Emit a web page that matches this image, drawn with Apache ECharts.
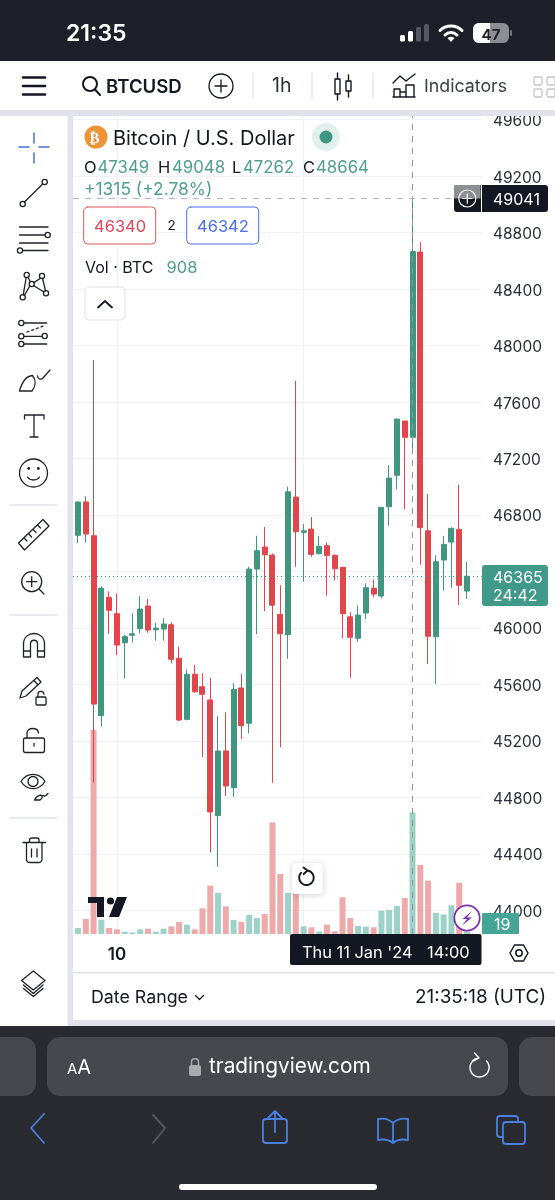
<!DOCTYPE html>
<html>
<head>
<meta charset="utf-8">
<title>BTCUSD 1h</title>
<script src="https://cdn.jsdelivr.net/npm/echarts@6/dist/echarts.min.js"></script>
<style>
  html, body { margin: 0; padding: 0; width: 555px; height: 1200px; overflow: hidden; background: #fff; font-family: Inter, "Noto Sans", sans-serif; }
  .abs { position: absolute; }
  .t { position: absolute; white-space: nowrap; transform: translateY(-50%); line-height: 1; color: #131722; }
  #chrome { position: absolute; left: 0; top: 0; z-index: 1; }
  #chart { position: absolute; left: 73px; top: 116px; width: 482px; height: 850px; z-index: 2; }
  #over { position: absolute; left: 0; top: 0; width: 555px; height: 1200px; z-index: 3; }
  .g { color: #4f9f8c; }
</style>
</head>
<body>

<svg id="chrome" width="555" height="1200" viewBox="0 0 555 1200" fill="none">
  <!-- phone status bar, app toolbar, panels -->
  <rect x="0" y="0" width="555" height="61" fill="#1e2029"/>
  <rect x="0" y="110" width="555" height="6" fill="#e0e3eb"/>
  <rect x="67.5" y="110" width="5.5" height="916" fill="#e0e3eb"/>
  <rect x="73" y="1020" width="482" height="6" fill="#e0e3eb"/>
  <rect x="73" y="972" width="482" height="1.5" fill="#e0e3eb"/>
  <rect x="0" y="1026" width="555" height="174" fill="#2a2b30"/>
</svg>

<div id="chart"></div>

<svg id="over" width="555" height="1200" viewBox="0 0 555 1200" fill="none" stroke-linecap="round" stroke-linejoin="round">
  <!-- signal, wifi, battery -->
  <rect x="400" y="35" width="5" height="6.5" rx="1.5" fill="#fff"/>
  <rect x="408" y="31" width="5" height="10.5" rx="1.5" fill="#fff"/>
  <rect x="416" y="27" width="5" height="14.5" rx="1.5" fill="#55575e"/>
  <rect x="424" y="24" width="5" height="17.5" rx="1.5" fill="#55575e"/>
  <g stroke="#fff" stroke-width="3">
    <path d="M440 30.5 C446 24.5 456 24.5 462 30.5"/>
    <path d="M445 35 C448.5 31.5 453.5 31.5 457 35"/>
  </g>
  <path d="M451 42 L447.5 38 C449.5 36.3 452.5 36.3 454.5 38 Z" fill="#fff"/>
  <rect x="473" y="23" width="36" height="20" rx="6" fill="#8d8e93"/>
  <path d="M479 23 H490 V43 H479 A6 6 0 0 1 473 37 V29 A6 6 0 0 1 479 23 Z" fill="#fff"/>
  <rect x="510" y="30" width="2" height="6" rx="1" fill="#77787d"/>

  <!-- toolbar icons -->
  <g stroke="#131722" stroke-width="2.6">
    <line x1="23" y1="77.5" x2="45" y2="77.5"/>
    <line x1="23" y1="86" x2="45" y2="86"/>
    <line x1="23" y1="94.5" x2="45" y2="94.5"/>
  </g>
  <g stroke="#131722" stroke-width="2">
    <circle cx="90" cy="84" r="7"/>
    <line x1="95" y1="89.5" x2="100" y2="95"/>
  </g>
  <g stroke="#131722" stroke-width="1.3">
    <circle cx="221" cy="86" r="12"/>
    <line x1="215" y1="86" x2="227" y2="86"/>
    <line x1="221" y1="80" x2="221" y2="92"/>
  </g>
  <g stroke="#e0e3eb" stroke-width="1.3">
    <line x1="253" y1="73" x2="253" y2="99"/>
    <line x1="312" y1="73" x2="312" y2="99"/>
    <line x1="373" y1="73" x2="373" y2="99"/>
  </g>
  <g stroke="#131722" stroke-width="1.4">
    <rect x="335" y="79" width="5" height="15"/><line x1="337.5" y1="73" x2="337.5" y2="79"/><line x1="337.5" y1="94" x2="337.5" y2="100"/>
    <rect x="346" y="81" width="5" height="10"/><line x1="348.5" y1="75" x2="348.5" y2="81"/><line x1="348.5" y1="91" x2="348.5" y2="97"/>
  </g>
  <g stroke="#131722" stroke-width="1.4">
    <path d="M393 83 L400 76 L406 81 L415 74"/>
    <path d="M394 97 V89 H400 V97 Z M400 97 V92 H406 V97 Z M406 97 V85 H414 V97 Z M393 97 H415"/>
  </g>
  <g stroke="#c3c5cb" stroke-width="1.3">
    <rect x="534" y="77" width="8" height="8" rx="1.5"/><rect x="534" y="89" width="8" height="8" rx="1.5"/>
    <rect x="547" y="77" width="8" height="8" rx="1.5"/><rect x="547" y="89" width="8" height="8" rx="1.5"/>
  </g>

  <!-- drawing tools -->
  <g stroke="#4a6fd8" stroke-width="1.5">
    <line x1="19" y1="147" x2="29" y2="147"/><line x1="39" y1="147" x2="49" y2="147"/>
    <line x1="34" y1="133" x2="34" y2="143"/><line x1="34" y1="153" x2="34" y2="163"/>
  </g>
  <g stroke="#1f2229" stroke-width="1.3">
    <line x1="24.5" y1="202" x2="42.7" y2="184"/><circle cx="44.7" cy="182" r="2.6"/><circle cx="22.7" cy="204" r="2.6"/>

    <line x1="19.5" y1="227" x2="48" y2="227"/><line x1="19.5" y1="235" x2="45" y2="235"/><circle cx="47.7" cy="235" r="2.6"/>
    <line x1="19.5" y1="243" x2="48" y2="243"/><line x1="22.6" y1="250.5" x2="48" y2="250.5"/><circle cx="20" cy="250.5" r="2.6"/>

    <path d="M26.2 277.5 L23.2 294.8 M28 277.2 L30.5 282 M33.9 282.6 L40.7 278 M33.8 285.7 L43.9 292 M29.8 286 L24.4 295.3 M42.6 278.5 L45.5 290.8"/>
    <circle cx="26.7" cy="275" r="2.6"/><circle cx="42" cy="276" r="2.6"/><circle cx="31.7" cy="284" r="2.6"/><circle cx="22.7" cy="297.3" r="2.6"/><circle cx="46" cy="293.3" r="2.6"/>

    <line x1="24" y1="323" x2="46.7" y2="323"/><circle cx="21.3" cy="323" r="2.6"/>
    <line x1="24" y1="336.3" x2="42" y2="336.3"/><circle cx="21.3" cy="336.3" r="2.6"/><circle cx="44.7" cy="336" r="2.6"/>
    <line x1="24" y1="344" x2="46.7" y2="344"/><circle cx="21.3" cy="344" r="2.6"/>
    <path d="M27 332 L45 325.5" stroke-dasharray="2 3"/>

    <path d="M19.5 391 H32 C36 386 36 380 32.5 375.5 C26 376 22 382 19.5 391 Z"/>
    <path d="M37.5 376 C38 379.5 41 380 43 378 L50 370"/>

    <path d="M24.5 419 V415 H44 V419 M34 415 V437 M30 437 H38"/>

    <circle cx="33.5" cy="473" r="14"/>
    <path d="M27.5 477 C30 481 37 481 39.5 477"/>
    <circle cx="28.7" cy="468.5" r="0.8" fill="#1f2229"/><circle cx="38.3" cy="468.5" r="0.8" fill="#1f2229"/>

    <path d="M18.5 543 L43 519.5 L49 526 L24.5 550 Z M24 538 L27 541 M28.5 533.5 L31.5 537 M33 529.5 L36 532.5 M37.5 525 L40.5 528"/>

    <circle cx="31.7" cy="581.7" r="10"/><line x1="39" y1="589" x2="44" y2="594"/>
    <line x1="26.7" y1="581.7" x2="36.7" y2="581.7"/><line x1="31.7" y1="576.7" x2="31.7" y2="586.7"/>

    <path d="M23.5 657 V644 C23.5 630 44.5 630 44.5 644 V657 H37.5 V644 C37.5 639 30.5 639 30.5 644 V657 Z M23.5 651 H30.5 M37.5 651 H44.5"/>

    <path d="M20 698 L22 691 L37 677.5 L41 682 L26 696 Z M34 680.5 L38 685"/>
    <rect x="36" y="697" width="10" height="8" rx="1"/><path d="M38 697 V694 C38 690.5 43.5 690.5 44 694"/>

    <rect x="23.5" y="738" width="21" height="14.5" rx="2"/>
    <path d="M27 738 V733 C27 727 38 727 38.5 733"/><line x1="34" y1="743.5" x2="34" y2="746"/>

    <path d="M21 781.5 C27 772 39 772 45 781.5 C39 791 27 791 21 781.5 Z"/><circle cx="33" cy="781.5" r="5"/>
    <path d="M34.5 800 H40 C43 798 42.5 795.5 41 795 C38 795.5 36 797 34.5 800 Z M43 795.5 C44 796.5 46 796 48 793.5"/>

    <path d="M23 842.5 H45.5 M26.5 843 V859 C26.5 861.5 28 862.5 30 862.5 H38.5 C41 862.5 42 861.5 42 859 V843 M29.5 842.5 V840 C29.5 838.5 30.5 838 32 838 H37 C38.5 838 39 838.5 39 840 V842.5 M31.5 849 V857 M37 849 V857"/>

    <path d="M33.3 971 L45 980.5 L33.3 990 L21.5 980.5 Z"/>
    <path d="M23.5 985 L33.3 993.5 L43 985 M23.5 988.5 L33.3 996.5 L43 988.5"/>
  </g>
  <g stroke="#e0e3eb" stroke-width="1.3">
    <line x1="10" y1="505" x2="57" y2="505"/>
    <line x1="10" y1="615" x2="57" y2="615"/>
    <line x1="10" y1="818" x2="57" y2="818"/>
  </g>

  <!-- symbol legend -->
  <circle cx="96" cy="137" r="11.5" fill="#ec9437" stroke="none"/>
  <circle cx="326" cy="137" r="14" fill="#e0f0ec" stroke="none"/>
  <circle cx="326" cy="137" r="6.5" fill="#3f9580" stroke="none"/>
  <rect x="83.7" y="207" width="72" height="37" rx="4" fill="#fff" stroke="#e2555a" stroke-width="1"/>
  <rect x="186.7" y="207" width="72" height="37" rx="4" fill="#fff" stroke="#4a6fe0" stroke-width="1"/>
  <rect x="85" y="287" width="40" height="33" rx="4" fill="#fff" stroke="#dfe1e6" stroke-width="1"/>
  <path d="M98 307.5 L105 301 L112 307.5" stroke="#131722" stroke-width="1.8"/>

  <!-- TV logo, reset and boost controls -->
  <path d="M88 897 H104 V917 H97 V903 H88 Z" fill="#131722" stroke="none"/>
  <circle cx="110.5" cy="901" r="3.6" fill="#131722" stroke="none"/>
  <path d="M117 897 H127 L119 917 H109 Z" fill="#131722" stroke="none"/>
  <rect x="292" y="863" width="31" height="31" rx="4" fill="#fff" stroke="none" style="filter:drop-shadow(0 1px 3px rgba(0,0,0,.18))"/>
  <path d="M301.2 873.2 A7.3 7.3 0 1 0 307.5 871 M307.5 871 L303.5 868 M307.5 871 L303.7 874.5" stroke="#131722" stroke-width="1.9" transform="translate(0,-0.5)"/>
  <circle cx="467" cy="918" r="12.7" fill="#fff" stroke="#7e2fb4" stroke-width="1.8"/>
  <path d="M472 911 L462.5 919 H467 L462 925.5 L472 917.5 H467 Z" fill="#7e2fb4" stroke="none"/>

  <!-- crosshair and live price tags -->
  <rect x="454" y="185" width="94" height="27" rx="3" fill="#131722" stroke="none"/>
  <path d="M480.5 185 H457 A3 3 0 0 0 454 188 V198.5 H480.5 Z" fill="#8d8f95" stroke="none"/>
  <line x1="481.5" y1="185" x2="481.5" y2="212" stroke="#fff" stroke-width="1"/>
  <circle cx="467.3" cy="198.5" r="8.5" stroke="#fff" stroke-width="1.2"/>
  <path d="M462.5 198.5 H472 M467.3 193.8 V203.2" stroke="#fff" stroke-width="1.2"/>
  <rect x="482" y="565" width="66" height="41" rx="3" fill="#41998a" stroke="none"/>
  <rect x="482" y="913" width="37" height="21" rx="1" fill="#45a697" stroke="none"/>
  <rect x="290" y="934" width="191.5" height="31" rx="2" fill="#131722" stroke="none"/>
  <path d="M510 953 L514.5 945 H523.5 L528 953 L523.5 961 H514.5 Z" stroke="#131722" stroke-width="1.5"/>
  <circle cx="519" cy="953" r="3.2" stroke="#131722" stroke-width="1.5"/>
  <path d="M195.5 995.5 L199.5 999.5 L203.5 995.5" stroke="#131722" stroke-width="1.2"/>

  <!-- browser bar -->
  <rect x="-20" y="1037" width="56" height="59" rx="13" fill="#47484e" stroke="none"/>
  <rect x="47" y="1037" width="461" height="59" rx="13" fill="#47484e" stroke="none"/>
  <rect x="519" y="1037" width="60" height="59" rx="13" fill="#47484e" stroke="none"/>
  <rect x="189" y="1065" width="12" height="11" rx="2" fill="#a9aaae" stroke="none"/>
  <path d="M191.5 1065 V1062 C191.5 1057.5 198.5 1057.5 198.5 1062 V1065" stroke="#a9aaae" stroke-width="1.5"/>
  <path d="M486.5 1061 A9.5 9.5 0 1 1 479 1058 M479 1058 L474.5 1053 M479 1058 L473.5 1061" stroke="#fff" stroke-width="1.4"/>
  <g stroke="#4a80e0" stroke-width="1.8">
    <path d="M44 1114 L31 1128 L44 1143"/>
    <rect x="263" y="1119" width="24" height="24" rx="3"/>
    <path d="M275 1112 V1132 M268 1118 L275 1111 L282 1118"/>
    <path d="M393 1123 C388 1118 383 1118 378 1119 V1140 C383 1139 388 1139 393 1143 C398 1139 403 1139 408 1140 V1119 C403 1118 398 1118 393 1123 Z M393 1123 V1143"/>
    <rect x="497" y="1116" width="21" height="21" rx="3"/>
    <rect x="503" y="1122" width="22" height="22" rx="3" fill="#2a2b30"/>
  </g>
  <path d="M153 1115 L165 1128 L153 1143" stroke="#55565c" stroke-width="2"/>
  <rect x="179" y="1184" width="198" height="6" rx="3" fill="#fff" stroke="none"/>
</svg>

<div id="texts" class="abs" style="left:0;top:0;z-index:4;width:555px;height:1200px;overflow:hidden">
  <div class="t" style="left:66px;top:33px;font-size:23px;font-weight:600;color:#fff">21:35</div>
  <div class="t" style="left:481.5px;top:33.5px;font-size:15px;font-weight:700;color:#1e2029">47</div>
  <div class="t" style="left:106px;top:86px;font-size:18.6px;font-weight:600">BTCUSD</div>
  <div class="t" style="left:272px;top:86px;font-size:19.5px;color:#2a2e39">1h</div>
  <div class="t" style="left:424px;top:86px;font-size:17.8px;color:#3a3d47">Indicators</div>

  <div class="t" style="left:89.5px;top:137.5px;font-size:15px;font-weight:700;color:#fff;font-family:'DejaVu Sans'">₿</div>
  <div class="t" style="left:113px;top:138px;font-size:20px">Bitcoin / U.S. Dollar</div>
  <div class="t" style="left:84px;top:166.5px;font-size:16.5px">O</div>
  <div class="t g" style="left:97.5px;top:166.5px;font-size:16.8px">47349</div>
  <div class="t" style="left:158px;top:166.5px;font-size:16.5px">H</div>
  <div class="t g" style="left:172px;top:166.5px;font-size:16.8px">49048</div>
  <div class="t" style="left:232px;top:166.5px;font-size:16.5px">L</div>
  <div class="t g" style="left:243px;top:166.5px;font-size:16.8px">47262</div>
  <div class="t" style="left:303px;top:166.5px;font-size:16.5px">C</div>
  <div class="t g" style="left:316px;top:166.5px;font-size:16.8px">48664</div>
  <div class="t g" style="left:84px;top:189px;font-size:17.4px">+1315 (+2.78%)</div>
  <div class="t" style="left:94px;top:226px;font-size:16.5px;color:#e0475a">46340</div>
  <div class="t" style="left:167.5px;top:226px;font-size:13.5px">2</div>
  <div class="t" style="left:197px;top:226px;font-size:16.5px;color:#4a6fe0">46342</div>
  <div class="t" style="left:85px;top:267px;font-size:16px">Vol · BTC</div>
  <div class="t g" style="left:166.5px;top:267px;font-size:16.5px">908</div>

  <div class="t" style="left:493px;top:198.5px;font-size:16px;color:#fff">49041</div>
  <div class="t" style="left:493px;top:576.5px;font-size:16px;color:#fff">46365</div>
  <div class="t" style="left:493px;top:595px;font-size:16px;color:#fff">24:42</div>
  <div class="t" style="left:494px;top:924px;font-size:16px;color:#fff">19</div>
  <div class="t" style="left:302px;top:952px;font-size:16.4px;color:#fff">Thu 11 Jan '24</div>
  <div class="t" style="left:427px;top:952px;font-size:16.4px;color:#fff">14:00</div>

  <div class="t" style="left:91px;top:997px;font-size:17.8px">Date Range</div>
  <div class="t" style="left:415px;top:997px;font-size:18.9px">21:35:18 (UTC)</div>

  <div class="t" style="left:67px;top:1067px;color:#fff;font-size:20px"><span style="font-size:15px">A</span>A</div>
  <div class="t" style="left:209px;top:1066px;color:#fff;font-size:20.8px">tradingview.com</div>
</div>

<script>
// Hourly BTCUSD candles, 9 Jan 19:00 UTC through 11 Jan 21:00 UTC.
const opens = [46655,46891,46652,45378,46216,46100,45894,45947,45994,46154,45986,45991,46022,45784,45352,45671,45583,45489,44670,45128,44868,45574,45324,46416,46572,46515,46095,45951,46926,46676,46699,46525,46581,46513,46428,46078,45926,46105,46280,46225,46857,47080,47464,47349,48661,46687,45937,46480,46607,46697,46260];
const closes = [46891,46664,45460,46280,46124,45878,45937,45958,46133,45984,45998,46027,45777,45347,45671,45547,45529,44696,45128,44880,45564,45307,46416,46546,46517,46160,45958,46963,46680,46687,46520,46577,46513,46418,46100,45933,46090,46284,46239,46853,47060,47478,47349,48664,46709,45940,46468,46591,46704,46301,46365];
const lows = [46598,46605,44903,45300,45956,45807,45642,45897,45961,45965,45909,45909,45749,45340,45345,45540,45083,44408,44308,44809,44804,45213,45253,45956,46117,44903,45154,45781,46432,46326,46503,46520,46227,46336,45926,45647,45901,46062,46216,46209,46723,46980,46839,47262,46447,45744,45602,46263,46284,46161,46204];
const highs = [46895,46931,47896,46294,46258,46244,45949,46103,46225,46204,46036,46067,46039,45866,45706,45737,45678,45647,45375,45402,45607,45673,46432,46652,46714,46527,46301,46999,47749,46735,46784,46650,46605,46520,46432,46110,46159,46315,46343,46855,47152,47480,47466,49048,48731,46947,46513,46652,46711,47013,46466];
const volumes = [45,112,1523,107,45,35,17,12,35,40,17,40,57,90,70,35,192,361,306,207,105,92,142,119,149,834,448,306,310,57,50,19,70,21,274,119,60,55,50,174,180,209,269,908,515,398,157,146,214,383,19];

const priceTicks = [44000,44400,44800,45200,45600,46000,46400,46800,47200,47600,48000,48400,48800,49200,49600];
const midnightBars = [5, 29];
const labelledBars = [5];
const labelledBarText = ['10'];
const crosshairBar = 43;
const crosshairPrice = 49041;
const lastPrice = 46365;

const GREEN = '#41967f', RED = '#e0474c';
const GREEN_VOL = '#9dd2c9', RED_VOL = '#eeaaaa';
const xMin = -0.643, xMax = 51.89;
const priceMin = 43832, priceMax = 49624;

const candles = opens.map((o, i) => [i, o, closes[i], lows[i], highs[i]]);
const volumeBars = volumes.map((v, i) => ({
  value: [i, v],
  itemStyle: { color: closes[i] >= opens[i] ? GREEN_VOL : RED_VOL }
}));

const chart = echarts.init(document.getElementById('chart'), null, { renderer: 'canvas' });
chart.setOption({
  animation: false,
  grid: { left: 0, top: 0, width: 408.7, height: 818, containLabel: false, outerBoundsMode: 'none' },
  xAxis: {
    type: 'value', min: xMin, max: xMax, scale: true,
    axisLine: { show: false },
    axisTick: { show: false, customValues: midnightBars },
    axisLabel: {
      customValues: labelledBars, margin: 12, fontFamily: 'Inter', fontSize: 17, fontWeight: 600, color: '#131722',
      formatter: v => labelledBarText[labelledBars.indexOf(v)] || ''
    },
    splitLine: { show: true, lineStyle: { color: '#eff1f5', width: 1 } }
  },
  yAxis: [
    {
      type: 'value', position: 'right', min: priceMin, max: priceMax, scale: true,
      axisLine: { show: false },
      axisTick: { show: false, customValues: priceTicks },
      axisLabel: {
        customValues: priceTicks, margin: 11.3, verticalAlign: 'top', lineHeight: 4, fontFamily: 'Inter', fontSize: 15.5, color: '#2a2e39',
        formatter: v => String(v), showMinLabel: true, showMaxLabel: true
      },
      splitLine: { show: true, lineStyle: { color: '#eff1f5', width: 1 } }
    },
    { type: 'value', min: 0, max: 6109, show: false, splitLine: { show: false } }
  ],
  series: [
    {
      type: 'bar', name: 'Volume', xAxisIndex: 0, yAxisIndex: 1, barWidth: 6, data: volumeBars, z: 1, silent: true
    },
    {
      type: 'candlestick', name: 'BTCUSD', xAxisIndex: 0, yAxisIndex: 0,
      encode: { x: 0, y: [1, 2, 3, 4] },
      data: candles, barWidth: 5.5, z: 2, silent: true,
      itemStyle: { color: GREEN, color0: RED, borderColor: GREEN, borderColor0: RED, borderWidth: 1 },
      markLine: {
        silent: true, symbol: 'none', animation: false, label: { show: false },
        data: [
          [{ coord: [crosshairBar, priceMin] , lineStyle: { color: '#93969f', type: [6, 6], width: 1.1 } }, { coord: [crosshairBar, priceMax] }],
          [{ coord: [xMin, crosshairPrice], lineStyle: { color: '#b3b5bb', type: [6, 6], width: 1.1 } }, { coord: [48.3, crosshairPrice] }],
          [{ coord: [xMin, lastPrice], lineStyle: { color: '#2f8f7c', type: [1, 3], width: 1 } }, { coord: [xMax, lastPrice] }]
        ]
      }
    }
  ]
});
</script>
</body>
</html>
